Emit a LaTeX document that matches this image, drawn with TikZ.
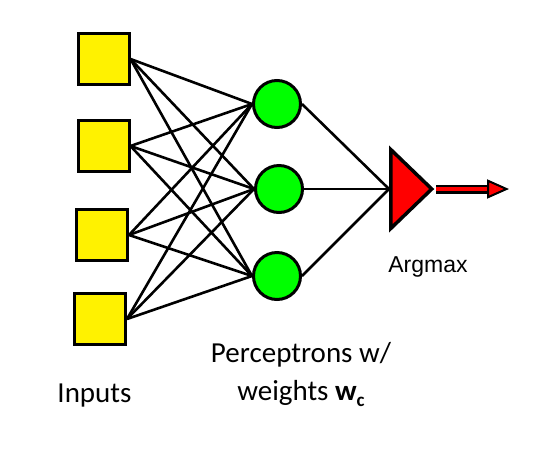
\documentclass[tikz,border=0pt]{standalone}
\usepackage{fontspec}
\setmainfont{Carlito}
\newfontfamily\argfont{Liberation Sans}
\usetikzlibrary{shapes.geometric,arrows.meta}

\begin{document}
\begin{tikzpicture}[
  x=1pt, y=-1pt,
  inp/.style={rectangle, draw, line width=3pt, fill=yellow, minimum size=51pt, inner sep=0pt},
  perc/.style={circle, draw, line width=3pt, fill=green, minimum size=47pt, inner sep=0pt},
  amaxT/.style={isosceles triangle, isosceles triangle stretches, draw, line width=3.5pt, fill=red,
    minimum width=79pt, minimum height=41pt, inner sep=0pt, anchor=west},
  e/.style={line width=2.6pt},
  outA/.style={line width=2.5pt, double=red, double distance=4pt,
    -{Triangle[length=22pt, width=19pt, fill=red, line width=2pt]}},
  lbl/.style={font=\fontsize{29}{38}\selectfont, align=center, inner sep=0pt}
]
\useasboundingbox (0,0) rectangle (554,448);

% --- Inputs (yellow) ---
\node[inp] (in1) at (103.5,59)  {};
\node[inp] (in2) at (103.5,146) {};
\node[inp] (in3) at (102,235)   {};
\node[inp] (in4) at (100,319)   {};

% --- Perceptrons (green) ---
\node[perc] (p1) at (277,104) {};
\node[perc] (p2) at (279,189) {};
\node[perc] (p3) at (277,276) {};

% --- Argmax (red) ---
\node[amaxT] (amax) at (389,189) {};
\coordinate (out) at (509,189);

% every input to every perceptron
\draw[e] (in1.east)--(p1.west); \draw[e] (in1.east)--(p2.west); \draw[e] (in1.east)--(p3.west);
\draw[e] (in2.east)--(p1.west); \draw[e] (in2.east)--(p2.west); \draw[e] (in2.east)--(p3.west);
\draw[e] (in3.east)--(p1.west); \draw[e] (in3.east)--(p2.west); \draw[e] (in3.east)--(p3.west);
\draw[e] (in4.east)--(p1.west); \draw[e] (in4.east)--(p2.west); \draw[e] (in4.east)--(p3.west);

% perceptrons into argmax
\draw[e] (p1.east)--(amax.west);
\draw[e] (p2.east)--(amax.west);
\draw[e] (p3.east)--(amax.west);

\draw[outA] (amax.apex)--(out);

% --- labels ---
\node[lbl, anchor=base] (inLbl) at (94.5,402) {Inputs};
\node[lbl] (percLbl) at (301,374) {Perceptrons w/\\weights \textbf{w}{\fontsize{19}{19}\selectfont\raisebox{-6pt}{\textbf{c}}}};
\node[font=\argfont\fontsize{23}{23}\selectfont, anchor=base, inner sep=0pt] (amaxLbl) at (428,272) {Argmax};

\end{tikzpicture}
\end{document}
